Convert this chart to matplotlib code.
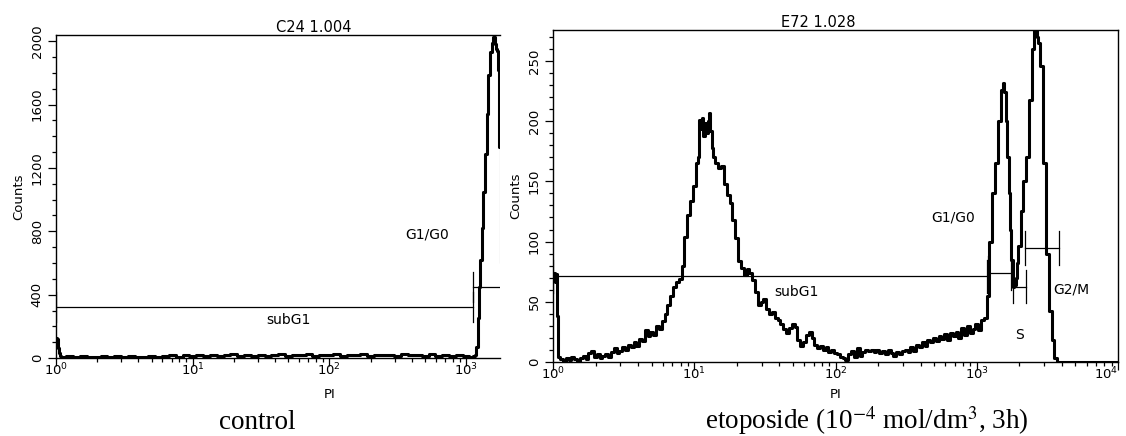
import matplotlib
matplotlib.use("Agg")
import matplotlib.pyplot as plt
from matplotlib.ticker import LogLocator, MultipleLocator, NullFormatter

W, H = 1126, 436

# control sample (C24): PI channel position (log10) and counts
ctrl_log = [0.000, 0.008, 0.016, 0.024, 0.032, 0.045,
            0.10, 0.15, 0.20, 0.25, 0.30, 0.35, 0.40, 0.45, 0.50, 0.55,
            0.60, 0.65, 0.70, 0.75, 0.80, 0.85, 0.90, 0.95, 1.00, 1.05,
            1.10, 1.15, 1.20, 1.25, 1.30, 1.35, 1.40, 1.45, 1.50, 1.55,
            1.60, 1.65, 1.70, 1.75, 1.80, 1.85, 1.90, 1.95, 2.00, 2.05,
            2.10, 2.15, 2.20, 2.25, 2.30, 2.35, 2.40, 2.45, 2.50, 2.55,
            2.60, 2.65, 2.70, 2.75, 2.80, 2.85, 2.90, 2.95, 3.00, 3.04,
            3.058, 3.070, 3.080, 3.090, 3.100, 3.110, 3.120, 3.130, 3.143,
            3.157, 3.170, 3.185, 3.195, 3.204, 3.212, 3.220, 3.230, 3.240,
            3.246, 3.26, 3.28]
ctrl_counts = [125, 118, 62, 30, 12, 8,
               14, 6, 11, 4, 9, 13, 5, 10, 7, 12,
               6, 9, 14, 8, 11, 16, 9, 18, 12, 20,
               14, 22, 10, 18, 24, 12, 20, 15, 22, 13,
               19, 25, 14, 21, 16, 23, 12, 20, 17, 24,
               13, 21, 18, 25, 14, 22, 16, 20, 12, 23,
               17, 21, 13, 24, 15, 20, 11, 18, 14, 9,
               10, 20, 70, 250, 450, 620, 820, 1050, 1290,
               1540, 1790, 1930, 1990, 2030, 1980, 1950, 1940, 1820,
               1330, 600, 150]

# etoposide sample (E72)
eto_log = [0.000, 0.008, 0.016, 0.024, 0.032, 0.040,
           0.06, 0.08, 0.10, 0.12, 0.14, 0.16, 0.18, 0.20, 0.22, 0.24,
           0.26, 0.28, 0.30, 0.32, 0.34, 0.36, 0.38, 0.40, 0.42, 0.44,
           0.46, 0.48, 0.50, 0.52, 0.54, 0.56, 0.58, 0.60, 0.62, 0.64,
           0.66, 0.68, 0.70, 0.72, 0.74, 0.76, 0.78, 0.80, 0.82, 0.84,
           0.86, 0.88, 0.90, 0.92, 0.94, 0.96, 0.98, 1.00, 1.02, 1.03,
           1.04, 1.05, 1.06, 1.07, 1.08, 1.09, 1.10, 1.11, 1.12, 1.13,
           1.14, 1.16, 1.18, 1.20, 1.22, 1.24, 1.26, 1.28, 1.30, 1.32,
           1.34, 1.36, 1.38, 1.40, 1.42, 1.44, 1.46, 1.48, 1.50, 1.52,
           1.54, 1.56, 1.58, 1.60, 1.62, 1.64, 1.66, 1.68, 1.70, 1.72,
           1.74, 1.76, 1.78, 1.80, 1.82, 1.84, 1.86, 1.88, 1.90, 1.92,
           1.94, 1.96, 1.98, 2.00, 2.02, 2.04, 2.06, 2.08, 2.10, 2.12,
           2.14, 2.16, 2.18, 2.20, 2.22, 2.24, 2.26, 2.28, 2.30, 2.32,
           2.34, 2.36, 2.38, 2.40, 2.42, 2.44, 2.46, 2.48, 2.50, 2.52,
           2.54, 2.56, 2.58, 2.60, 2.62, 2.64, 2.66, 2.68, 2.70, 2.72,
           2.74, 2.76, 2.78, 2.80, 2.82, 2.84, 2.86, 2.88, 2.90, 2.92,
           2.94, 2.96, 2.98, 3.00, 3.02, 3.04, 3.06, 3.08, 3.10, 3.12,
           3.14, 3.16, 3.18, 3.19, 3.20, 3.21, 3.22, 3.23, 3.24, 3.25,
           3.26, 3.27, 3.28, 3.29, 3.30, 3.32, 3.34, 3.36, 3.38, 3.40,
           3.41, 3.42, 3.43, 3.44, 3.46, 3.48, 3.50, 3.52, 3.54, 3.56,
           3.58, 4.00]
eto_counts = [70, 74, 66, 73, 38, 4,
              2, 0, 3, 1, 4, 2, 0, 3, 5, 2,
              7, 9, 4, 6, 3, 5, 6, 4, 8, 11,
              7, 9, 12, 10, 14, 12, 16, 13, 19, 17,
              26, 21, 25, 22, 30, 27, 34, 40, 47, 55,
              62, 66, 69, 80, 104, 122, 134, 146, 165, 170,
              201, 194, 203, 188, 199, 190, 200, 207, 192, 178,
              170, 165, 161, 163, 148, 139, 132, 118, 103, 84,
              78, 72, 77, 74, 68, 58, 47, 50, 52, 44,
              40, 41, 36, 35, 31, 27, 24, 28, 31, 29,
              18, 13, 16, 22, 25, 20, 14, 11, 13, 10,
              12, 8, 10, 7, 6, 4, 3, 1, 6, 9,
              4, 11, 5, 8, 10, 9, 10, 8, 10, 7,
              9, 6, 10, 7, 5, 8, 6, 9, 10, 8,
              12, 9, 14, 12, 16, 13, 18, 16, 20, 17,
              21, 19, 23, 18, 24, 21, 25, 20, 28, 22,
              30, 24, 27, 31, 26, 35, 36, 55, 100, 140,
              165, 200, 226, 232, 224, 200, 170, 140, 110, 85,
              62, 64, 70, 82, 96, 125, 150, 170, 218, 260,
              276, 282, 270, 265, 246, 165, 90, 42, 18, 3,
              0, 0]

# gates: start/end (log10 PI), level (counts), half bar height
ctrl_gate_start = [0.0, 3.048]
ctrl_gate_end = [3.048, 3.40]
ctrl_gate_level = [324, 450]
ctrl_gate_half = 95

eto_gate_start = [0.0, 3.080, 3.257, 3.342]
eto_gate_end = [3.070, 3.242, 3.349, 3.582]
eto_gate_level = [71, 74, 62.5, 94.5]
eto_gate_half = 14

pi_ticks = [1, 10, 100, 1000, 10000]


def px_axes(fig, x0, y0, x1, y1):
    return fig.add_axes([x0 / W, 1 - y1 / H, (x1 - x0) / W, (y1 - y0) / H])


def draw_gates(ax, starts, ends, levels, half):
    for a, b, lev in zip(starts, ends, levels):
        ax.plot([10 ** a, 10 ** b], [lev, lev], color="black", lw=0.9)
        for e in (a, b):
            ax.plot([10 ** e, 10 ** e], [lev - half, lev + half],
                    color="black", lw=0.9)


def style_axes(ax, ymajor, yminor):
    ax.set_xscale("log")
    ax.set_xticks(pi_ticks)
    ax.xaxis.set_minor_locator(LogLocator(base=10, subs=range(2, 10)))
    ax.xaxis.set_minor_formatter(NullFormatter())
    ax.yaxis.set_major_locator(MultipleLocator(ymajor))
    ax.yaxis.set_minor_locator(MultipleLocator(yminor))
    ax.tick_params(which="major", direction="out", length=5.8, width=0.9,
                   labelsize=9.5)
    ax.tick_params(which="minor", direction="out", length=2.9, width=0.9)
    ax.tick_params(axis="x", pad=-3)
    ax.tick_params(axis="y", labelrotation=90, pad=3)
    for lab in ax.get_yticklabels():
        lab.set_va("center")
    for s in ax.spines.values():
        s.set_linewidth(1.0)
    ax.set_ylabel("Counts", fontsize=9.5, labelpad=4)


fig = plt.figure(figsize=(W / 100, H / 100), dpi=100)

# left panel: control
ax1 = px_axes(fig, 56, 35, 500, 358)
ax1.plot([10 ** v for v in ctrl_log], ctrl_counts, drawstyle="steps-mid",
         color="black", lw=2.2)
draw_gates(ax1, ctrl_gate_start, ctrl_gate_end, ctrl_gate_level, ctrl_gate_half)
style_axes(ax1, 400, 100)
ax1.set_xlim(1, 10 ** 3.248)
ax1.set_ylim(0, 2040)
ax1.spines["right"].set_visible(False)
ax1.text(10 ** 2.714, 777, "G1/G0", ha="center", va="center", fontsize=10)
ax1.text(10 ** 1.701, 240, "subG1", ha="center", va="center", fontsize=10)

# right panel: etoposide
ax2 = px_axes(fig, 553, 30, 1118, 361.7)
ax2.plot([10 ** v for v in eto_log], eto_counts, drawstyle="steps-mid",
         color="black", lw=2.2)
draw_gates(ax2, eto_gate_start, eto_gate_end, eto_gate_level, eto_gate_half)
style_axes(ax2, 50, 10)
ax2.set_xlim(1, 1e4)
ax2.set_ylim(0, 276)
ax2.text(10 ** 2.832, 120, "G1/G0", ha="center", va="center", fontsize=10)
ax2.text(10 ** 1.727, 58, "subG1", ha="center", va="center", fontsize=10)
ax2.text(10 ** 3.306, 22, "S", ha="center", va="center", fontsize=10)
ax2.text(10 ** 3.545, 60, "G2/M", ha="left", va="center", fontsize=10)

# last tick label sits at the figure edge: keep it inside
fig.canvas.draw()
ax2.get_xticklabels()[-1].set_horizontalalignment("right")

# titles, axis names and captions
fig.text(314 / W, 1 - 27.7 / H, "C24 1.004", ha="center", va="center",
         fontsize=10.5)
fig.text(818 / W, 1 - 22.7 / H, "E72 1.028", ha="center", va="center",
         fontsize=10.5)
fig.text(330 / W, 1 - 395 / H, "PI", ha="center", va="center", fontsize=9.5)
fig.text(836 / W, 1 - 395 / H, "PI", ha="center", va="center", fontsize=9.5)
fig.text(257 / W, 1 - 429 / H, "control", ha="center", va="baseline",
         fontsize=19.5, family="Liberation Serif")
fig.text(867 / W, 1 - 429 / H, "etoposide (10$^{-4}$ mol/dm$^{3}$, 3h)",
         ha="center", va="baseline", fontsize=19.5, family="Liberation Serif",
         math_fontfamily="stix")

fig.savefig("out.png", dpi=100)
